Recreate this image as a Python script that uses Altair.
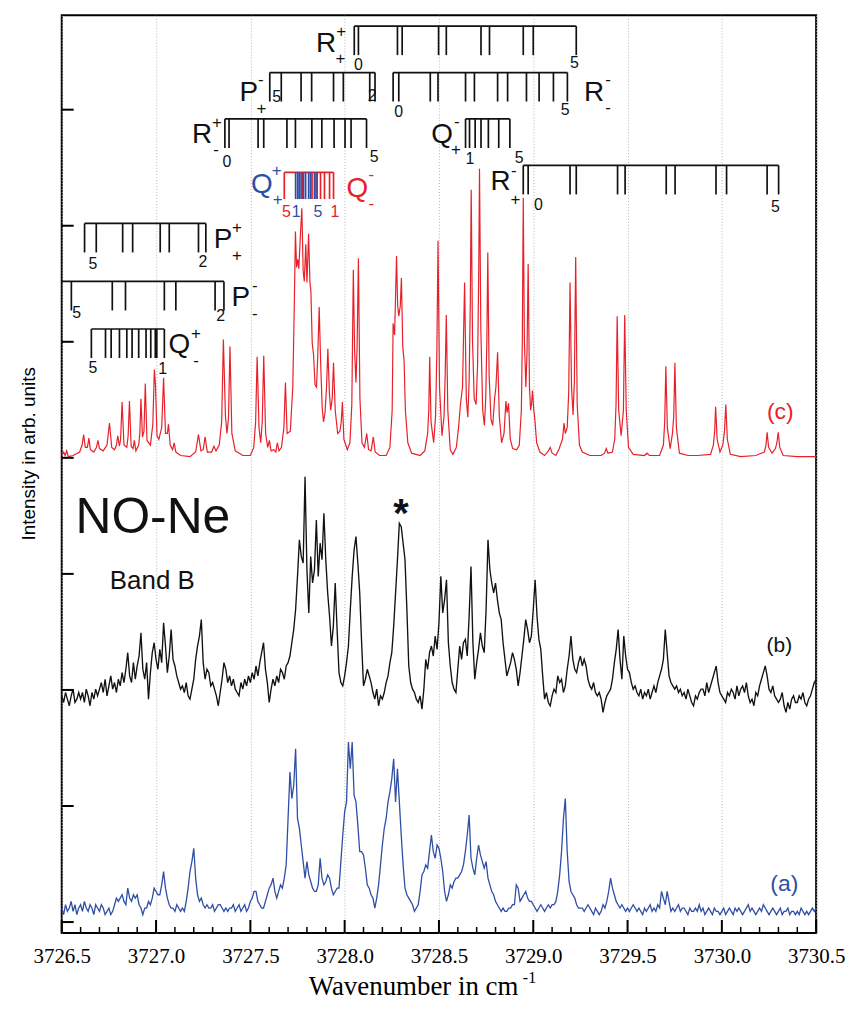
import altair as alt
import pandas as pd

# ------------------------------------------------------------------
# Simulated spectrum (c): (wavenumber, height above its own baseline)
red_trace = [
    (3726.500, 0.02), (3726.510, 0.04), (3726.518, 0.01), (3726.526, 0.05), (3726.535, 0.00),
    (3726.560, 0.01), (3726.595, 0.04), (3726.608, 0.10), (3726.616, 0.19), (3726.625, 0.08),
    (3726.636, 0.08), (3726.644, 0.16), (3726.652, 0.06), (3726.670, 0.04), (3726.684, 0.08),
    (3726.692, 0.14), (3726.700, 0.07), (3726.720, 0.05), (3726.740, 0.10), (3726.753, 0.29),
    (3726.765, 0.08), (3726.780, 0.06), (3726.790, 0.10), (3726.797, 0.18), (3726.806, 0.09),
    (3726.812, 0.15), (3726.820, 0.47), (3726.830, 0.10), (3726.845, 0.08), (3726.852, 0.18),
    (3726.859, 0.48), (3726.868, 0.09), (3726.878, 0.07), (3726.885, 0.14), (3726.893, 0.05),
    (3726.908, 0.10), (3726.914, 0.20), (3726.920, 0.50), (3726.928, 0.17), (3726.936, 0.22),
    (3726.943, 0.63), (3726.952, 0.14), (3726.970, 0.10), (3726.983, 0.28), (3726.991, 0.75),
    (3726.997, 0.62), (3727.005, 0.18), (3727.015, 0.15), (3727.030, 0.25), (3727.040, 0.68),
    (3727.050, 0.20), (3727.060, 0.20), (3727.066, 0.28), (3727.075, 0.10), (3727.088, 0.06),
    (3727.096, 0.12), (3727.105, 0.04), (3727.130, 0.01), (3727.180, 0.00), (3727.210, 0.04),
    (3727.225, 0.19), (3727.238, 0.05), (3727.250, 0.06), (3727.260, 0.17), (3727.272, 0.04),
    (3727.295, 0.04), (3727.307, 0.09), (3727.318, 0.05), (3727.335, 0.10), (3727.348, 0.30),
    (3727.357, 1.01), (3727.368, 0.35), (3727.376, 0.20), (3727.384, 0.33), (3727.392, 0.95),
    (3727.402, 0.20), (3727.420, 0.05), (3727.460, 0.01), (3727.500, 0.01), (3727.518, 0.08),
    (3727.528, 0.30), (3727.536, 0.86), (3727.546, 0.25), (3727.555, 0.12), (3727.563, 0.30),
    (3727.571, 0.87), (3727.581, 0.20), (3727.592, 0.08), (3727.601, 0.14), (3727.610, 0.05),
    (3727.625, 0.06), (3727.635, 0.04), (3727.643, 0.12), (3727.652, 0.05), (3727.665, 0.08),
    (3727.678, 0.25), (3727.686, 0.64), (3727.695, 0.20), (3727.712, 0.22), (3727.725, 0.60),
    (3727.733, 1.30), (3727.739, 1.94), (3727.745, 1.63), (3727.751, 1.70), (3727.757, 1.62),
    (3727.765, 1.90), (3727.773, 2.14), (3727.780, 1.60), (3727.786, 1.51), (3727.794, 1.83),
    (3727.800, 1.50), (3727.809, 1.92), (3727.816, 1.50), (3727.821, 1.43), (3727.828, 0.98),
    (3727.835, 0.88), (3727.843, 0.62), (3727.851, 0.60), (3727.858, 0.90), (3727.865, 1.29),
    (3727.873, 0.80), (3727.881, 0.42), (3727.888, 0.30), (3727.896, 0.38), (3727.904, 0.60),
    (3727.911, 0.93), (3727.919, 0.55), (3727.926, 0.40), (3727.934, 0.50), (3727.941, 0.81),
    (3727.950, 0.40), (3727.963, 0.20), (3727.975, 0.22), (3727.982, 0.30), (3727.988, 0.47),
    (3727.996, 0.15), (3728.014, 0.06), (3728.028, 0.12), (3728.038, 0.45), (3728.046, 1.61),
    (3728.053, 0.90), (3728.060, 0.64), (3728.066, 0.95), (3728.073, 1.71), (3728.081, 0.50),
    (3728.092, 0.12), (3728.105, 0.08), (3728.117, 0.20), (3728.127, 0.06), (3728.140, 0.05),
    (3728.152, 0.17), (3728.162, 0.04), (3728.185, 0.01), (3728.220, 0.01), (3728.240, 0.08),
    (3728.252, 0.40), (3728.257, 1.15), (3728.265, 1.05), (3728.275, 1.73), (3728.281, 1.30),
    (3728.287, 1.21), (3728.295, 1.30), (3728.301, 1.54), (3728.308, 0.95), (3728.315, 0.83),
    (3728.322, 0.40), (3728.335, 0.12), (3728.355, 0.03), (3728.400, 0.01), (3728.425, 0.05),
    (3728.440, 0.20), (3728.446, 0.40), (3728.451, 0.86), (3728.458, 0.30), (3728.472, 0.12),
    (3728.482, 0.35), (3728.489, 0.90), (3728.495, 1.86), (3728.503, 0.60), (3728.516, 0.18),
    (3728.527, 0.35), (3728.533, 0.70), (3728.539, 1.22), (3728.547, 0.40), (3728.560, 0.06),
    (3728.574, 0.02), (3728.592, 0.08), (3728.604, 0.25), (3728.614, 0.45), (3728.625, 0.60),
    (3728.636, 1.50), (3728.645, 0.50), (3728.653, 0.34), (3728.660, 0.65), (3728.666, 1.30),
    (3728.671, 2.30), (3728.678, 1.00), (3728.687, 0.50), (3728.697, 0.45), (3728.705, 0.80),
    (3728.711, 1.60), (3728.715, 2.48), (3728.722, 1.10), (3728.732, 0.40), (3728.741, 0.27),
    (3728.748, 0.50), (3728.754, 1.00), (3728.759, 1.76), (3728.766, 0.70), (3728.776, 0.32),
    (3728.785, 0.27), (3728.795, 0.50), (3728.802, 0.60), (3728.811, 0.90), (3728.820, 0.35),
    (3728.832, 0.12), (3728.845, 0.20), (3728.855, 0.48), (3728.861, 0.38), (3728.869, 0.46),
    (3728.878, 0.15), (3728.891, 0.07), (3728.912, 0.06), (3728.926, 0.10), (3728.937, 0.40),
    (3728.942, 1.00), (3728.947, 2.23), (3728.953, 1.00), (3728.961, 0.60), (3728.967, 0.90),
    (3728.973, 1.66), (3728.980, 0.60), (3728.986, 0.40), (3728.991, 0.45), (3728.996, 0.57),
    (3729.003, 0.40), (3729.008, 0.33), (3729.018, 0.12), (3729.035, 0.04), (3729.060, 0.01),
    (3729.080, 0.05), (3729.090, 0.08), (3729.100, 0.03), (3729.120, 0.01), (3729.138, 0.07),
    (3729.146, 0.11), (3729.155, 0.15), (3729.163, 0.29), (3729.170, 0.20), (3729.180, 0.25),
    (3729.188, 0.55), (3729.195, 1.50), (3729.203, 0.60), (3729.211, 0.36), (3729.218, 0.65),
    (3729.225, 1.72), (3729.233, 0.45), (3729.245, 0.10), (3729.260, 0.04), (3729.300, 0.01),
    (3729.360, 0.01), (3729.378, 0.03), (3729.387, 0.07), (3729.396, 0.03), (3729.420, 0.04),
    (3729.432, 0.15), (3729.439, 0.45), (3729.445, 1.21), (3729.453, 0.40), (3729.466, 0.18),
    (3729.478, 0.40), (3729.485, 1.22), (3729.493, 0.40), (3729.505, 0.08), (3729.530, 0.02),
    (3729.590, 0.01), (3729.603, 0.03), (3729.616, 0.01), (3729.670, 0.01), (3729.690, 0.10),
    (3729.697, 0.30), (3729.703, 0.78), (3729.711, 0.25), (3729.726, 0.07), (3729.738, 0.20),
    (3729.745, 0.35), (3729.751, 0.81), (3729.759, 0.25), (3729.775, 0.03), (3729.820, 0.01),
    (3729.870, 0.01), (3729.940, 0.02), (3729.955, 0.10), (3729.962, 0.22), (3729.967, 0.43),
    (3729.975, 0.15), (3729.990, 0.04), (3730.005, 0.10), (3730.014, 0.22), (3730.021, 0.45),
    (3730.029, 0.15), (3730.045, 0.02), (3730.100, 0.00), (3730.180, 0.01), (3730.225, 0.04),
    (3730.234, 0.10), (3730.240, 0.21), (3730.248, 0.08), (3730.266, 0.03), (3730.284, 0.07),
    (3730.292, 0.12), (3730.299, 0.21), (3730.307, 0.08), (3730.325, 0.01), (3730.400, 0.00),
    (3730.500, 0.00),
]

# Measured spectra (b) and (a): values on a 0.01 cm-1 grid from 3726.50 to 3730.50 (arb. units)
grid_start = 3726.50
grid_step = 0.01
black_v = [
    4, 2, 5, 3, 1, 4, 6, 2, 3, 5,   3, 5, 2, 6, 4, 1, 5, 3, 6, 4,
    6, 8, 5, 9, 4, 7, 10, 6, 8, 5,   9, 7, 11, 8, 12, 17, 10, 8, 14, 9,
    13, 16, 23, 12, 9, 14, 3, 11, 17, 20,   15, 12, 18, 14, 26, 19, 11, 16, 24, 15,
    13, 10, 8, 6, 7, 5, 8, 4, 3, 6,   9, 15, 19, 22, 27, 14, 9, 12, 11, 7,
    8, 6, 4, 1, 5, 9, 14, 12, 8, 10,   7, 9, 6, 5, 4, 8, 6, 9, 7, 10,
    8, 11, 9, 13, 10, 14, 17, 20, 12, 8,   2, 6, 9, 7, 10, 8, 12, 11, 9, 13,
    14, 16, 20, 24, 30, 40, 51, 46, 44, 70,   42, 29, 46, 38, 42, 57, 40, 50, 45, 59,
    45, 35, 28, 19, 25, 38, 24, 11, 8, 7,   10, 14, 19, 30, 40, 48, 52, 44, 35, 20,
    7, 9, 12, 10, 8, 5, 3, 6, 1, 4,   3, 5, 8, 10, 14, 17, 25, 35, 45, 56,
    55, 50, 45, 30, 13, 8, 6, 5, 3, 2,   4, 0, 6, 15, 12, 17, 19, 16, 22, 18,
    26, 40, 29, 33, 39, 20, 13, 8, 6, 5,   12, 19, 15, 20, 21, 16, 28, 43, 20, 9,
    14, 18, 23, 19, 17, 30, 51, 42, 38, 35,   38, 33, 29, 27, 20, 15, 10, 12, 14, 17,
    15, 12, 7, 11, 16, 21, 27, 24, 20, 22,   30, 39, 28, 21, 18, 10, 3, 5, 2, 1,
    4, 6, 5, 10, 8, 9, 5, 7, 12, 16,   22, 15, 12, 11, 14, 16, 13, 15, 13, 9,
    7, 6, 8, 5, 4, 5, 3, -1, 2, 4,   5, 6, 9, 14, 18, 24, 15, 9, 22, 16,
    12, 11, 8, 6, 7, 5, 4, 6, 3, 5,   4, 6, 3, 5, 7, 5, 8, 10, 12, 15,
    24, 17, 10, 8, 7, 6, 7, 5, 6, 4,   5, 3, 6, 4, 2, 1, 4, 3, 5, 6,
    6, 4, 8, 5, 7, 9, 11, 13, 8, 5,   4, 3, 2, 5, 4, 6, 5, 3, 7, 4,
    6, 7, 5, 8, 4, 2, 3, 1, 5, 4,   7, 9, 11, 13, 10, 6, 5, 7, 4, 3,
    2, 3, 5, 1, -1, 2, 0, 3, 4, 2,   2, 4, 3, 5, 2, 1, 3, 4, 6, 8,
    9,
]
blue_v = [
    3, 1, 4, 2, 3, 5, 2, 4, 1, 3,   4, 2, 5, 3, 2, 4, 3, 1, 4, 3,
    2, 4, 3, 1, 2, 3, 1, 2, 4, 6,   5, 6, 7, 5, 4, 9, 6, 5, 7, 6,
    7, 4, 3, 1, 3, 3, 5, 4, 6, 9,   8, 7, 7, 10, 14, 9, 6, 4, 3, 3,
    2, 4, 3, 2, 3, 2, 5, 9, 14, 17,   21, 12, 7, 5, 6, 4, 3, 4, 3, 3,
    4, 2, 3, 4, 4, 3, 2, 3, 2, 3,   3, 4, 2, 3, 4, 2, 3, 4, 2, 3,
    5, 6, 8, 8, 5, 4, 3, 3, 5, 7,   9, 10, 12, 8, 6, 8, 10, 9, 12, 16,
    30, 44, 36, 40, 51, 30, 27, 22, 17, 12,   17, 13, 11, 9, 8, 8, 10, 18, 12, 10,
    11, 13, 12, 9, 7, 8, 9, 9, 17, 25,   32, 35, 53, 45, 53, 37, 35, 28, 20, 20,
    19, 15, 10, 9, 7, 6, 3, 6, 10, 16,   22, 27, 30, 35, 38, 42, 48, 35, 45, 35,
    25, 16, 9, 7, 6, 5, 4, 2, 3, 4,   8, 13, 14, 16, 15, 20, 25, 20, 18, 22,
    21, 18, 14, 8, 5, 7, 10, 9, 11, 12,   12, 13, 14, 16, 20, 25, 31, 18, 15, 13,
    18, 22, 19, 17, 15, 17, 12, 10, 8, 7,   5, 4, 3, 2, 3, 2, 2, 3, 3, 4,
    4, 10, 9, 5, 6, 7, 8, 6, 5, 5,   4, 3, 2, 3, 4, 3, 2, 3, 4, 3,
    4, 4, 5, 8, 13, 20, 30, 36, 20, 11,   8, 7, 6, 4, 3, 3, 3, 2, 3, 4,
    3, 2, 1, 3, 2, 1, 2, 4, 3, 5,   8, 12, 9, 7, 5, 4, 3, 4, 3, 2,
    3, 2, 3, 4, 3, 2, 3, 2, 1, 3,   2, 3, 4, 2, 3, 2, 4, 3, 8, 6,
    4, 8, 5, 2, 3, 2, 3, 4, 2, 3,   3, 2, 1, 3, 2, 2, 3, 2, 4, 2,
    3, 1, 2, 3, 2, 1, 3, 2, 2, 1,   2, 3, 1, 2, 3, 2, 1, 3, 2, 3,
    2, 1, 2, 3, 4, 2, 3, 2, 1, 2,   3, 2, 4, 3, 2, 1, 2, 3, 2, 1,
    2, 3, 1, 2, 2, 3, 1, 2, 2, 1,   2, 1, 3, 2, 1, 2, 1, 2, 3, 2,
    3,
]

# Line-position combs (wavenumbers)
comb_Rpp = [3728.051, 3728.073, 3728.280, 3728.305, 3728.498, 3728.539, 3728.723, 3728.768,
            3728.947, 3729.000, 3729.228]
comb_Pmp = [3727.603, 3727.664, 3727.769, 3727.825, 3727.941, 3727.993, 3728.133, 3728.161]
comb_Rmm = [3728.257, 3728.287, 3728.454, 3728.495, 3728.641, 3728.688, 3728.811, 3728.864,
            3728.964, 3729.031, 3729.107, 3729.181]
comb_Rpm = [3727.365, 3727.387, 3727.541, 3727.571, 3727.694, 3727.739, 3727.826, 3727.879,
            3727.944, 3728.002, 3728.034, 3728.116]
comb_Qmp = [3728.641, 3728.662, 3728.692, 3728.723, 3728.762, 3728.817, 3728.876]
comb_Rmp = [3728.947, 3728.973, 3729.195, 3729.228, 3729.447, 3729.487, 3729.705, 3729.752,
            3729.969, 3730.025, 3730.240, 3730.301]
comb_Qpp = [3727.740, 3727.751, 3727.759, 3727.769, 3727.782, 3727.793, 3727.809, 3727.819,
            3727.840, 3727.854]
comb_Qmm = [3727.680, 3727.777, 3727.827, 3727.848, 3727.872, 3727.893, 3727.920, 3727.941]
comb_Ppp = [3726.621, 3726.683, 3726.823, 3726.876, 3727.022, 3727.070, 3727.225, 3727.264]
comb_Pmm = [3726.551, 3726.768, 3726.838, 3727.044, 3727.105, 3727.313, 3727.360]
comb_Qpm = [3726.657, 3726.732, 3726.762, 3726.806, 3726.845, 3726.873, 3726.908, 3726.947,
            3726.972, 3726.996, 3727.004, 3727.044]

x_tick_labels = [3726.5, 3727.0, 3727.5, 3728.0, 3728.5, 3729.0, 3729.5, 3730.0, 3730.5]

# ------------------------------------------------------------------
# layout / style
K, RED, BLUE = "#111111", "#e8202a", "#2f4ea5"
W0, W1 = 3726.5, 3730.5
Y0, Y1 = -0.094, 7.813
PX_PER_UNIT = 116.6
PX_PER_CM = 189.5
RED_BASE, BLACK_BASE, BLUE_BASE = 4.01, 1.835, 0.035
V_SCALE = 0.02859

xs = alt.Scale(domain=[W0, W1], nice=False, zero=False)
ys = alt.Scale(domain=[Y0, Y1], nice=False, zero=False)

x_axis = alt.Axis(values=x_tick_labels, format=".1f", labelFont="Liberation Serif",
                  labelFontSize=21, labelColor="black", labelPadding=13, labelFlush=False,
                  labelOverlap=False, ticks=False, tickSize=0, domain=False, grid=True,
                  gridColor="#b5b5b5", gridDash=[1, 2], gridWidth=1,
                  title="Wavenumber in cm", titleFont="Liberation Serif", titleFontSize=27,
                  titleFontWeight="normal", titleColor="black", titleX=353, titleY=62,
                  titleAlign="center", titleBaseline="alphabetic")
y_axis = alt.Axis(title="Intensity in arb. units", labels=False, ticks=False, tickSize=0,
                  domain=False, grid=False, titleFont="Liberation Sans Narrow, Liberation Sans",
                  titleFontSize=19, titleFontWeight="normal", titleColor="black",
                  titleAngle=-90, titleX=-23, titleY=440, titleAlign="center",
                  titleBaseline="bottom")

X = alt.X("wn:Q", scale=xs, axis=x_axis)
Y = alt.Y("y:Q", scale=ys, axis=y_axis)

# ---- spectra table ----
rows = []
for i, (w, h) in enumerate(red_trace):
    rows.append({"wn": w, "y": RED_BASE + h, "s": "c", "o": i, "lw": 1.2})
for i, v in enumerate(black_v):
    rows.append({"wn": round(grid_start + i * grid_step, 3), "y": BLACK_BASE + v * V_SCALE,
                 "s": "b", "o": i, "lw": 1.35})
for i, v in enumerate(blue_v):
    rows.append({"wn": round(grid_start + i * grid_step, 3), "y": BLUE_BASE + v * V_SCALE,
                 "s": "a", "o": i, "lw": 1.3})
spec = pd.DataFrame(rows)

spectra = alt.Chart(spec).mark_line().encode(
    x=X, y=Y,
    color=alt.Color("s:N", scale=alt.Scale(domain=["c", "b", "a"], range=[RED, K, BLUE]), legend=None),
    strokeWidth=alt.StrokeWidth("lw:Q", scale=None),
    order="o:Q",
    detail="s:N",
)

# ---- inward axis ticks ----
trows = []
for k in range(41):
    w = round(W0 + k * 0.1, 2)
    major = (k % 5 == 0)
    trows.append({"wn": w, "wn2": w, "y": Y0, "y2": Y0 + (13 if major else 6) / PX_PER_UNIT,
                  "w": 2.0 if major else 1.5})
for k in range(8):
    trows.append({"wn": W0, "wn2": W0 + 12 / PX_PER_CM, "y": float(k), "y2": float(k), "w": 2.0})
ticks = alt.Chart(pd.DataFrame(trows)).mark_rule(color="black").encode(
    x=X, x2="wn2:Q", y=Y, y2="y2:Q", strokeWidth=alt.StrokeWidth("w:Q", scale=None))

# ---- combs ----
combs = [
    (comb_Rpp, 7.72, 7.47, K, None),
    (comb_Pmp, 7.32, 7.07, K, None),
    (comb_Rmm, 7.32, 7.07, K, None),
    (comb_Rpm, 6.92, 6.67, K, None),
    (comb_Qmp, 6.92, 6.67, K, None),
    (comb_Rmp, 6.52, 6.27, K, None),
    (comb_Qmm, 6.46, 6.23, RED, None),
    (comb_Qpp, 6.46, 6.23, BLUE, "noline"),
    (comb_Ppp, 6.02, 5.77, K, None),
    (comb_Pmm, 5.52, 5.27, K, W0),
    (comb_Qpm, 5.11, 4.86, K, None),
]
srows = []
for pos, yl, yb, col, extra in combs:
    if extra != "noline":
        start = extra if isinstance(extra, float) else min(pos)
        srows.append({"wn": start, "wn2": max(pos), "y": yl, "y2": yl, "c": col})
    for p in pos:
        srows.append({"wn": p, "wn2": p, "y": yl, "y2": yb, "c": col})
seg = alt.Chart(pd.DataFrame(srows)).mark_rule(strokeWidth=1.7).encode(
    x=X, x2="wn2:Q", y=Y, y2="y2:Q", color=alt.Color("c:N", scale=None))

# ---- labels ----
labels = [
    ("R", 3727.901, 7.493, 28, K), ("+", 3727.981, 7.630, 17, K), ("+", 3727.978, 7.390, 17, K),
    ("0", 3728.073, 7.346, 16, K), ("5", 3729.218, 7.355, 16, K),
    ("P", 3727.492, 7.073, 28, K), ("-", 3727.555, 7.209, 17, K), ("+", 3727.559, 6.961, 17, K),
    ("5", 3727.640, 7.063, 16, K), ("2", 3728.146, 7.072, 16, K),
    ("0", 3728.287, 6.935, 16, K), ("5", 3729.169, 6.952, 16, K),
    ("R", 3729.323, 7.073, 28, K), ("-", 3729.397, 7.209, 17, K), ("-", 3729.397, 6.969, 17, K),
    ("R", 3727.244, 6.713, 28, K), ("+", 3727.323, 6.841, 17, K), ("-", 3727.318, 6.609, 17, K),
    ("0", 3727.376, 6.506, 16, K), ("5", 3728.157, 6.549, 16, K),
    ("Q", 3728.516, 6.713, 28, K), ("-", 3728.595, 6.849, 17, K), ("+", 3728.590, 6.610, 17, K),
    ("1", 3728.664, 6.532, 16, K), ("5", 3728.925, 6.540, 16, K),
    ("R", 3728.827, 6.310, 28, K), ("-", 3728.897, 6.430, 17, K), ("+", 3728.906, 6.180, 17, K),
    ("0", 3729.028, 6.137, 16, K), ("5", 3730.284, 6.120, 16, K),
    ("Q", 3727.561, 6.283, 28, BLUE), ("+", 3727.640, 6.430, 17, BLUE), ("+", 3727.645, 6.181, 17, BLUE),
    ("Q", 3728.067, 6.250, 28, RED), ("-", 3728.141, 6.394, 17, RED), ("-", 3728.141, 6.146, 17, RED),
    ("5", 3727.691, 6.077, 16, RED), ("1", 3727.743, 6.077, 16, BLUE),
    ("5", 3727.858, 6.077, 16, BLUE), ("1", 3727.949, 6.077, 16, RED),
    ("P", 3727.355, 5.812, 28, K), ("+", 3727.429, 5.940, 17, K), ("+", 3727.429, 5.700, 17, K),
    ("5", 3726.665, 5.631, 16, K), ("2", 3727.249, 5.648, 16, K),
    ("P", 3727.450, 5.306, 28, K), ("-", 3727.524, 5.434, 17, K), ("-", 3727.524, 5.194, 17, K),
    ("5", 3726.579, 5.202, 16, K), ("2", 3727.343, 5.177, 16, K),
    ("Q", 3727.123, 4.903, 28, K), ("+", 3727.212, 5.023, 17, K), ("-", 3727.212, 4.791, 17, K),
    ("5", 3726.665, 4.731, 16, K), ("1", 3727.035, 4.722, 16, K),
    ("NO-Ne", 3726.983, 3.353, 50, K), ("Band B", 3726.980, 2.873, 26, K),
    ("(b)", 3730.305, 2.324, 21, K), ("(a)", 3730.331, 0.271, 23, BLUE), ("(c)", 3730.310, 4.336, 23, RED),
]
lab_df = pd.DataFrame(labels, columns=["t", "wn", "y", "sz", "c"])
text_sans = alt.Chart(lab_df).mark_text(font="Liberation Sans", align="center", baseline="alphabetic").encode(
    x=X, y=Y, text="t:N", size=alt.Size("sz:Q", scale=None), color=alt.Color("c:N", scale=None))

star_df = pd.DataFrame([{"t": "*", "wn": 3728.299, "y": 3.405}])
text_star = alt.Chart(star_df).mark_text(font="Liberation Sans", fontWeight="bold", fontSize=40,
                                         align="center", baseline="alphabetic", color=K).encode(
    x=X, y=Y, text="t:N")

sup_df = pd.DataFrame([{"t": "-1", "wn": 3728.980, "y": -0.525}])
text_sup = alt.Chart(sup_df).mark_text(font="Liberation Serif", fontSize=16, align="center",
                                       baseline="alphabetic", color="black").encode(
    x=X, y=Y, text="t:N")

chart = alt.layer(spectra, ticks, seg, text_sans, text_star, text_sup).properties(
    width=758, height=922,
    autosize=alt.AutoSizeParams(type="none"),
    padding={"left": 54, "top": 5, "right": 33, "bottom": 66},
).configure_view(stroke="black", strokeWidth=2)

chart.save("out.html", embed_options={"renderer": "svg", "actions": False})
